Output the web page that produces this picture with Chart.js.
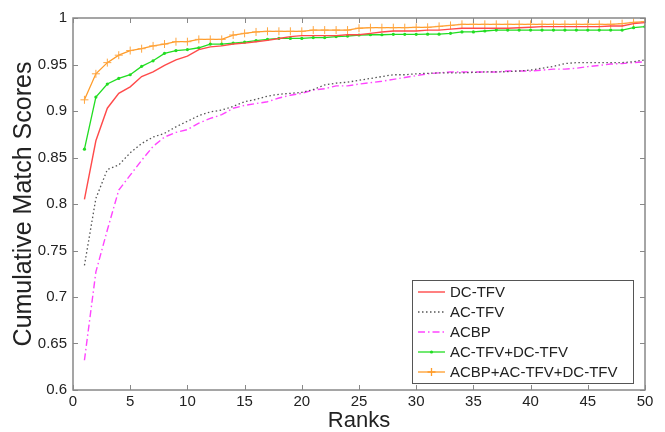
<!DOCTYPE html>
<html>
<head>
<meta charset="utf-8">
<script src="https://cdn.jsdelivr.net/npm/chart.js@4/dist/chart.umd.min.js"></script>
<style>
    html, body { margin: 0; padding: 0; background: #fff; }
    #wrap { width: 665px; height: 432px; }
</style>
</head>
<body>
<div id="wrap"><canvas id="cmcChart" width="665" height="432"></canvas></div>
<script>
const ranks = [1, 2, 3, 4, 5, 6, 7, 8, 9, 10,
    11, 12, 13, 14, 15, 16, 17, 18, 19, 20,
    21, 22, 23, 24, 25, 26, 27, 28, 29, 30,
    31, 32, 33, 34, 35, 36, 37, 38, 39, 40,
    41, 42, 43, 44, 45, 46, 47, 48, 49, 50];

const seriesNames = ['DC-TFV', 'AC-TFV', 'ACBP', 'AC-TFV+DC-TFV', 'ACBP+AC-TFV+DC-TFV'];

const dcTfv = [0.805, 0.868, 0.903, 0.919, 0.926, 0.937, 0.942, 0.949, 0.955, 0.959,
    0.966, 0.969, 0.970, 0.972, 0.973, 0.9745, 0.976, 0.978, 0.980, 0.981,
    0.981, 0.981, 0.981, 0.982, 0.982, 0.9835, 0.985, 0.986, 0.986, 0.986,
    0.987, 0.987, 0.988, 0.989, 0.989, 0.989, 0.989, 0.989, 0.9895, 0.990,
    0.9907, 0.9907, 0.9907, 0.9907, 0.9907, 0.9907, 0.9914, 0.9914, 0.994, 0.995];

const acTfv = [0.734, 0.806, 0.837, 0.842, 0.855, 0.865, 0.872, 0.876, 0.883, 0.889,
    0.895, 0.899, 0.901, 0.905, 0.910, 0.9125, 0.916, 0.918, 0.919, 0.920,
    0.923, 0.928, 0.930, 0.931, 0.933, 0.935, 0.937, 0.939, 0.939, 0.940,
    0.9405, 0.941, 0.941, 0.941, 0.9415, 0.942, 0.942, 0.9423, 0.943, 0.944,
    0.946, 0.948, 0.951, 0.952, 0.952, 0.952, 0.952, 0.952, 0.953, 0.955];

const acbp = [0.632, 0.727, 0.772, 0.815, 0.831, 0.847, 0.862, 0.872, 0.877, 0.880,
    0.887, 0.892, 0.896, 0.903, 0.906, 0.908, 0.910, 0.914, 0.917, 0.919,
    0.9226, 0.924, 0.927, 0.927, 0.929, 0.9305, 0.932, 0.934, 0.936, 0.938,
    0.940, 0.941, 0.942, 0.942, 0.942, 0.942, 0.942, 0.943, 0.943, 0.943,
    0.944, 0.945, 0.945, 0.946, 0.9477, 0.949, 0.9505, 0.951, 0.952, 0.953];

const acDc = [0.859, 0.915, 0.929, 0.935, 0.939, 0.948, 0.954, 0.962, 0.965, 0.966,
    0.968, 0.972, 0.972, 0.973, 0.974, 0.9756, 0.977, 0.978, 0.978, 0.978,
    0.979, 0.979, 0.980, 0.9806, 0.9817, 0.982, 0.982, 0.9824, 0.9824, 0.9824,
    0.9826, 0.9826, 0.9835, 0.985, 0.985, 0.986, 0.987, 0.987, 0.987, 0.987,
    0.987, 0.987, 0.987, 0.987, 0.987, 0.987, 0.987, 0.987, 0.9896, 0.9907];

const allFused = [0.912, 0.940, 0.952, 0.960, 0.965, 0.967, 0.970, 0.972, 0.9745, 0.9745,
    0.977, 0.977, 0.977, 0.9817, 0.9835, 0.985, 0.9857, 0.9857, 0.9857, 0.9857,
    0.987, 0.987, 0.987, 0.987, 0.989, 0.9896, 0.9896, 0.9896, 0.9896, 0.990,
    0.990, 0.991, 0.992, 0.9932, 0.9932, 0.9932, 0.9932, 0.9932, 0.9932, 0.9932,
    0.9932, 0.9932, 0.9932, 0.9932, 0.9932, 0.9932, 0.9932, 0.994, 0.9953, 0.996];

const xTicks = [0, 5, 10, 15, 20, 25, 30, 35, 40, 45, 50];
const yTicks = [0.6, 0.65, 0.7, 0.75, 0.8, 0.85, 0.9, 0.95, 1];

const textColor = '#222';
const frameColor = '#888';
const fontFamily = '"Liberation Sans", Arial, sans-serif';

function toPoints(values) {
    return ranks.map((r, i) => ({x: r, y: values[i]}));
}

// matlab style box with inward ticks on all four sides
const frameTicks = {
    id: 'frameTicks',
    afterDatasetsDraw(chart) {
        const {ctx, chartArea: a, scales} = chart;
        ctx.save();
        ctx.strokeStyle = frameColor;
        ctx.lineWidth = 1;
        ctx.beginPath();
        for (const t of xTicks) {
            const px = Math.round(scales.x.getPixelForValue(t)) + 0.5;
            ctx.moveTo(px, a.bottom); ctx.lineTo(px, a.bottom - 5);
            ctx.moveTo(px, a.top); ctx.lineTo(px, a.top + 5);
        }
        for (const t of yTicks) {
            const py = Math.round(scales.y.getPixelForValue(t)) + 0.5;
            ctx.moveTo(a.left, py); ctx.lineTo(a.left + 5, py);
            ctx.moveTo(a.right, py); ctx.lineTo(a.right - 5, py);
        }
        ctx.stroke();
        ctx.lineWidth = 1.5;
        ctx.strokeRect(a.left, a.top, a.right - a.left, a.bottom - a.top);
        ctx.restore();
    }
};

// legend box in the lower right corner of the plot
const boxLegend = {
    id: 'boxLegend',
    afterDraw(chart) {
        const {ctx, chartArea: a} = chart;
        const w = 221, h = 103;
        const x0 = a.right - 12 - w, y0 = a.bottom - 7 - h;
        ctx.save();
        ctx.fillStyle = '#fff';
        ctx.fillRect(x0, y0, w, h);
        ctx.strokeStyle = '#555';
        ctx.lineWidth = 1;
        ctx.strokeRect(x0 + 0.5, y0 + 0.5, w, h);
        ctx.font = '15px ' + fontFamily;
        ctx.textBaseline = 'middle';
        chart.data.datasets.forEach((ds, i) => {
            const cy = y0 + 12 + i * 20;
            ctx.strokeStyle = ds.borderColor;
            ctx.lineWidth = ds.borderWidth;
            ctx.setLineDash(ds.borderDash || []);
            ctx.beginPath();
            ctx.moveTo(x0 + 6, cy); ctx.lineTo(x0 + 33, cy);
            ctx.stroke();
            ctx.setLineDash([]);
            if (ds.pointRadius > 0) {
                ctx.fillStyle = ds.borderColor;
                if (ds.pointStyle === 'cross') {
                    ctx.beginPath();
                    ctx.moveTo(x0 + 19.5, cy - ds.pointRadius); ctx.lineTo(x0 + 19.5, cy + ds.pointRadius);
                    ctx.moveTo(x0 + 19.5 - ds.pointRadius, cy); ctx.lineTo(x0 + 19.5 + ds.pointRadius, cy);
                    ctx.stroke();
                } else {
                    ctx.beginPath();
                    ctx.arc(x0 + 19.5, cy, ds.pointRadius, 0, Math.PI * 2);
                    ctx.fill();
                }
            }
            ctx.fillStyle = textColor;
            ctx.fillText(ds.label, x0 + 38, cy + 1);
        });
        ctx.restore();
    }
};

const ctx = document.getElementById('cmcChart').getContext('2d');
const cmcChart = new Chart(ctx, {
    type: 'line',
    data: {
        datasets: [{
            label: seriesNames[0],
            data: toPoints(dcTfv),
            borderColor: '#ff4a4a',
            borderWidth: 1.4,
            pointRadius: 0
        }, {
            label: seriesNames[1],
            data: toPoints(acTfv),
            borderColor: '#555',
            borderWidth: 1.3,
            borderDash: [1.5, 2.5],
            pointRadius: 0
        }, {
            label: seriesNames[2],
            data: toPoints(acbp),
            borderColor: '#ff44ff',
            borderWidth: 1.4,
            borderDash: [7, 3, 1.5, 3],
            pointRadius: 0
        }, {
            label: seriesNames[3],
            data: toPoints(acDc),
            borderColor: '#22dd22',
            borderWidth: 1.3,
            pointRadius: 1.6,
            pointStyle: 'circle',
            pointBackgroundColor: '#22dd22',
            pointBorderWidth: 0
        }, {
            label: seriesNames[4],
            data: toPoints(allFused),
            borderColor: '#ff9c2a',
            borderWidth: 1.3,
            pointRadius: 4,
            pointStyle: 'cross',
            pointBorderColor: '#ffa640',
            pointBorderWidth: 1
        }]
    },
    options: {
        responsive: false,
        animation: false,
        layout: {padding: {top: 18, right: 20, left: 0, bottom: 0}},
        plugins: {legend: {display: false}, tooltip: {enabled: false}},
        elements: {line: {tension: 0}},
        scales: {
            x: {
                type: 'linear',
                min: 0,
                max: 50,
                afterBuildTicks(scale) { scale.ticks = xTicks.map(v => ({value: v})); },
                afterFit(scale) { scale.height = 42; },
                grid: {display: false, drawTicks: false},
                border: {display: false},
                ticks: {color: textColor, padding: 3, font: {family: fontFamily, size: 15}},
                title: {display: true, text: 'Ranks', color: textColor, padding: {top: 0, bottom: 0},
                    font: {family: fontFamily, size: 22, lineHeight: 1}}
            },
            y: {
                min: 0.6,
                max: 1,
                afterBuildTicks(scale) { scale.ticks = yTicks.map(v => ({value: v})); },
                afterFit(scale) { scale.width = 73; },
                grid: {display: false, drawTicks: false},
                border: {display: false},
                ticks: {color: textColor, padding: 6, callback: v => String(+v.toFixed(2)),
                    font: {family: fontFamily, size: 15}},
                title: {display: true, text: 'Cumulative Match Scores', color: textColor, padding: {top: 12, bottom: 0},
                    font: {family: fontFamily, size: 25, lineHeight: 1}}
            }
        }
    },
    plugins: [frameTicks, boxLegend]
});
</script>
</body>
</html>
